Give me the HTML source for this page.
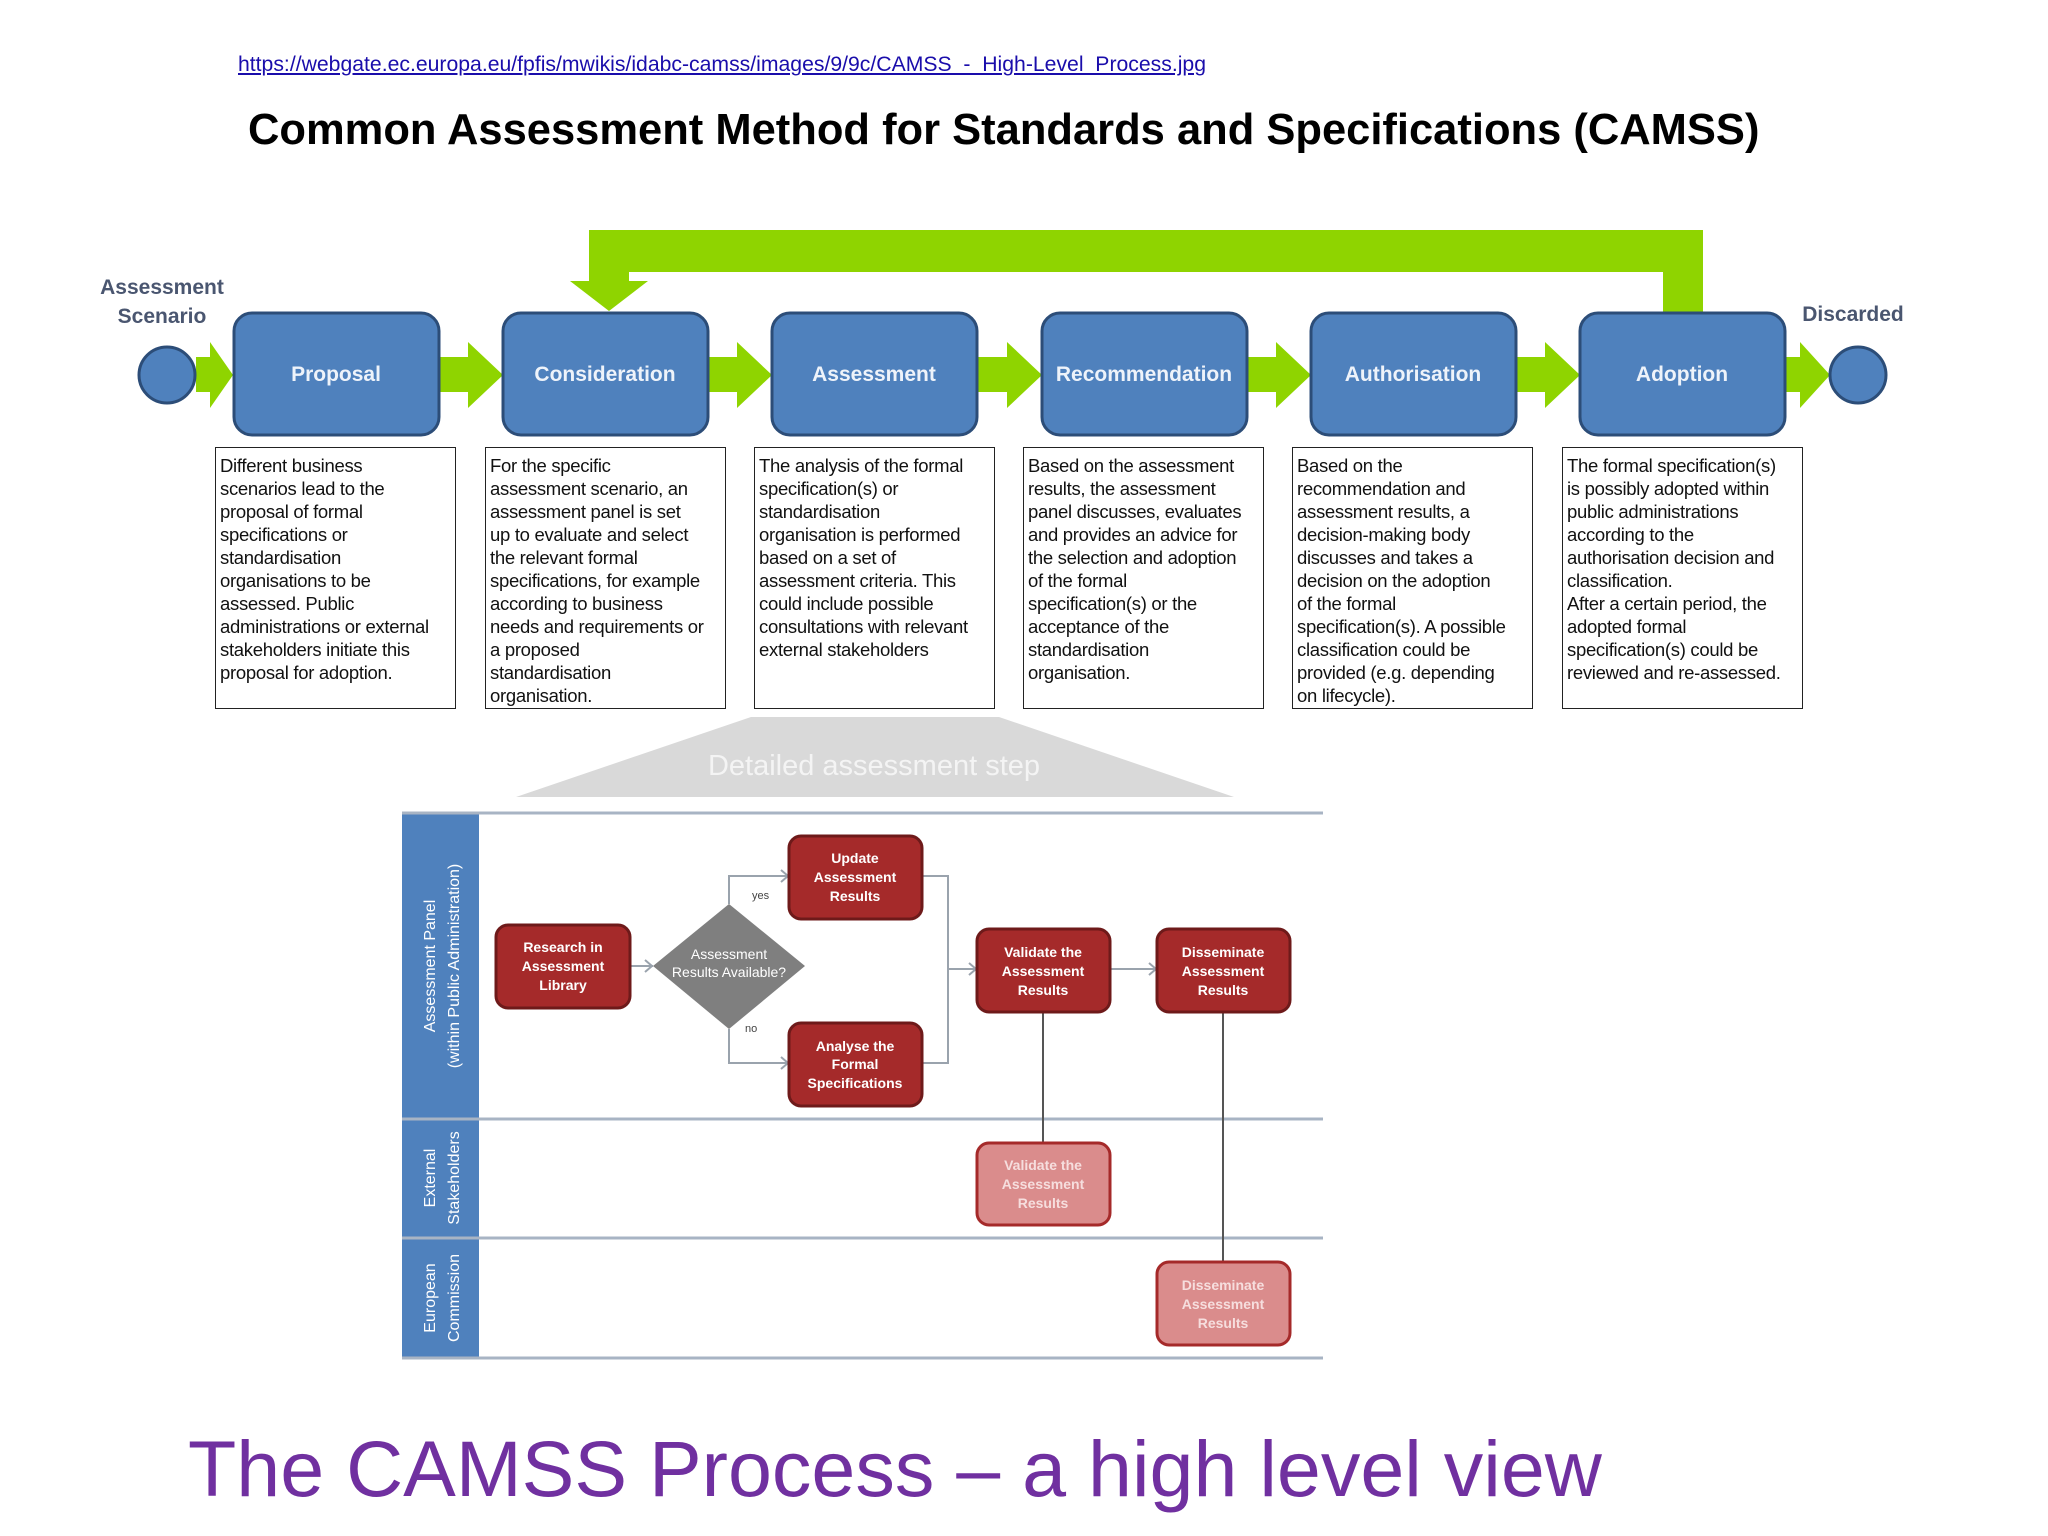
<!DOCTYPE html>
<html><head><meta charset="utf-8">
<style>
html,body{margin:0;padding:0;background:#fff;}
body{width:2048px;height:1536px;position:relative;overflow:hidden;font-family:"Liberation Sans",sans-serif;}
.url{position:absolute;left:238px;top:53px;font-size:21.2px;color:#1a0dab;text-decoration:underline;white-space:nowrap;font-family:"Liberation Sans",sans-serif;}
.title{position:absolute;left:248px;top:106px;font-size:43.5px;font-weight:bold;color:#000;white-space:nowrap;}
.tb{position:absolute;top:447px;width:241px;height:262px;border:1.5px solid #222;box-sizing:border-box;padding:6px 0 0 4px;font-family:"Liberation Sans Narrow","Liberation Sans",sans-serif;font-size:18.5px;line-height:23px;color:#111;white-space:nowrap;letter-spacing:-0.3px;}
.big{position:absolute;left:188px;top:1423px;font-size:79px;color:#7030a0;white-space:nowrap;}
</style></head><body>
<div class="url">https://webgate.ec.europa.eu/fpfis/mwikis/idabc-camss/images/9/9c/CAMSS_-_High-Level_Process.jpg</div>
<div class="title">Common Assessment Method for Standards and Specifications (CAMSS)</div>

<svg width="2048" height="1536" viewBox="0 0 2048 1536" style="position:absolute;left:0;top:0">
<g fill="#8fd400">
<path d="M589 230 H1703 V313 H1663 V272 H629 V281 H648 L609 311 L570 281 H589 Z"/>
<polygon points="196,357 210,357 210,342 233,375 210,408 210,392 196,392"/>
<polygon points="439,357 468,357 468,342 503,375 468,408 468,392 439,392"/>
<polygon points="708,357 737,357 737,342 772,375 737,408 737,392 708,392"/>
<polygon points="977,357 1007,357 1007,342 1042,375 1007,408 1007,392 977,392"/>
<polygon points="1247,357 1276,357 1276,342 1311,375 1276,408 1276,392 1247,392"/>
<polygon points="1516,357 1545,357 1545,342 1580,375 1545,408 1545,392 1516,392"/>
<polygon points="1785,357 1800,357 1800,342 1830,375 1800,408 1800,392 1785,392"/>
</g>
<g fill="#4f81bd" stroke="#2c4d78" stroke-width="3">
<circle cx="167" cy="375" r="28"/>
<circle cx="1858" cy="375" r="28"/>
<rect x="234" y="313" width="205" height="122" rx="18"/>
<rect x="503" y="313" width="205" height="122" rx="18"/>
<rect x="772" y="313" width="205" height="122" rx="18"/>
<rect x="1042" y="313" width="205" height="122" rx="18"/>
<rect x="1311" y="313" width="205" height="122" rx="18"/>
<rect x="1580" y="313" width="205" height="122" rx="18"/>
</g>
<g fill="#eef3fa" font-family="Liberation Sans Narrow, Liberation Sans, sans-serif" font-size="21" font-weight="bold" text-anchor="middle">
<text x="336" y="381">Proposal</text>
<text x="605" y="381">Consideration</text>
<text x="874" y="381">Assessment</text>
<text x="1144" y="381">Recommendation</text>
<text x="1413" y="381">Authorisation</text>
<text x="1682" y="381">Adoption</text>
</g>
<g fill="#4a5670" font-family="Liberation Sans Narrow, Liberation Sans, sans-serif" font-size="21" font-weight="bold" text-anchor="middle">
<text x="162" y="294">Assessment</text>
<text x="162" y="323">Scenario</text>
<text x="1853" y="321">Discarded</text>
</g>
<polygon points="751,717 999,717 1234,797 516,797" fill="#d9d9d9"/>
<text x="874" y="775" fill="#f4f4f4" font-size="29" text-anchor="middle">Detailed assessment step</text>
<rect x="402" y="812" width="77" height="546" fill="#4f81bd"/>
<g stroke="#a8b4c4" stroke-width="3">
<line x1="402" y1="813" x2="1323" y2="813"/>
<line x1="402" y1="1119" x2="1323" y2="1119"/>
<line x1="402" y1="1238" x2="1323" y2="1238"/>
<line x1="402" y1="1358" x2="1323" y2="1358"/>
</g>
<g fill="#fff" font-size="16" text-anchor="middle">
<text transform="translate(435,966) rotate(-90)">Assessment Panel</text>
<text transform="translate(459,966) rotate(-90)">(within Public Administration)</text>
<text transform="translate(435,1178) rotate(-90)">External</text>
<text transform="translate(459,1178) rotate(-90)">Stakeholders</text>
<text transform="translate(435,1298) rotate(-90)">European</text>
<text transform="translate(459,1298) rotate(-90)">Commission</text>
</g>
<g stroke="#9aa3ad" stroke-width="2" fill="none">
<polyline points="630,966 653,966"/>
<polyline points="729,904 729,876 789,876"/>
<polyline points="729,1029 729,1063 789,1063"/>
<polyline points="922,876 948,876 948,1063 922,1063"/>
<polyline points="948,969 977,969"/>
<polyline points="1110,969 1157,969"/>
<polyline points="645,960 652,966 645,972"/>
<polyline points="781,870 788,876 781,882"/>
<polyline points="781,1057 788,1063 781,1069"/>
<polyline points="969,963 976,969 969,975"/>
<polyline points="1149,963 1156,969 1149,975"/>
</g>
<g stroke="#555" stroke-width="2">
<line x1="1043" y1="1012" x2="1043" y2="1143"/>
<line x1="1223" y1="1012" x2="1223" y2="1262"/>
</g>
<text x="752" y="899" font-size="11" fill="#444">yes</text>
<text x="745" y="1032" font-size="11" fill="#444">no</text>
<polygon points="729,904 805,966 729,1029 653,966" fill="#7f7f7f"/>
<g fill="#a52a2a" stroke="#6e1a1a" stroke-width="3">
<rect x="496" y="925" width="134" height="83" rx="12"/>
<rect x="789" y="836" width="133" height="83" rx="12"/>
<rect x="789" y="1023" width="133" height="83" rx="12"/>
<rect x="977" y="929" width="133" height="83" rx="12"/>
<rect x="1157" y="929" width="133" height="83" rx="12"/>
</g>
<g fill="#da8c8c" stroke="#a52a2a" stroke-width="3">
<rect x="977" y="1143" width="133" height="82" rx="12"/>
<rect x="1157" y="1262" width="133" height="83" rx="12"/>
</g>
<g fill="#fff" font-family="Liberation Sans Narrow, Liberation Sans, sans-serif" font-size="14" font-weight="bold" text-anchor="middle">
<text x="563" y="952">Research in</text><text x="563" y="971">Assessment</text><text x="563" y="990">Library</text>
<text x="729" y="959" font-weight="normal">Assessment</text><text x="729" y="977" font-weight="normal">Results Available?</text>
<text x="855" y="863">Update</text><text x="855" y="882">Assessment</text><text x="855" y="901">Results</text>
<text x="855" y="1051">Analyse the</text><text x="855" y="1069">Formal</text><text x="855" y="1088">Specifications</text>
<text x="1043" y="957">Validate the</text><text x="1043" y="976">Assessment</text><text x="1043" y="995">Results</text>
<text x="1223" y="957">Disseminate</text><text x="1223" y="976">Assessment</text><text x="1223" y="995">Results</text>
</g>
<g fill="#f6dede" font-family="Liberation Sans Narrow, Liberation Sans, sans-serif" font-size="14" font-weight="bold" text-anchor="middle">
<text x="1043" y="1170">Validate the</text><text x="1043" y="1189">Assessment</text><text x="1043" y="1208">Results</text>
<text x="1223" y="1290">Disseminate</text><text x="1223" y="1309">Assessment</text><text x="1223" y="1328">Results</text>
</g>
</svg>

<div class="tb" style="left:215px">Different business<br>scenarios lead to the<br>proposal of formal<br>specifications or<br>standardisation<br>organisations to be<br>assessed. Public<br>administrations or external<br>stakeholders initiate this<br>proposal for adoption.</div>
<div class="tb" style="left:485px">For the specific<br>assessment scenario, an<br>assessment panel is set<br>up to evaluate and select<br>the relevant formal<br>specifications, for example<br>according to business<br>needs and requirements or<br>a proposed<br>standardisation<br>organisation.</div>
<div class="tb" style="left:754px">The analysis of the formal<br>specification(s) or<br>standardisation<br>organisation is performed<br>based on a set of<br>assessment criteria. This<br>could include possible<br>consultations with relevant<br>external stakeholders</div>
<div class="tb" style="left:1023px">Based on the assessment<br>results, the assessment<br>panel discusses, evaluates<br>and provides an advice for<br>the selection and adoption<br>of the formal<br>specification(s) or the<br>acceptance of the<br>standardisation<br>organisation.</div>
<div class="tb" style="left:1292px">Based on the<br>recommendation and<br>assessment results, a<br>decision-making body<br>discusses and takes a<br>decision on the adoption<br>of the formal<br>specification(s). A possible<br>classification could be<br>provided (e.g. depending<br>on lifecycle).</div>
<div class="tb" style="left:1562px">The formal specification(s)<br>is possibly adopted within<br>public administrations<br>according to the<br>authorisation decision and<br>classification.<br>After a certain period, the<br>adopted formal<br>specification(s) could be<br>reviewed and re-assessed.</div>

<div class="big">The CAMSS Process – a high level view</div>
</body></html>
